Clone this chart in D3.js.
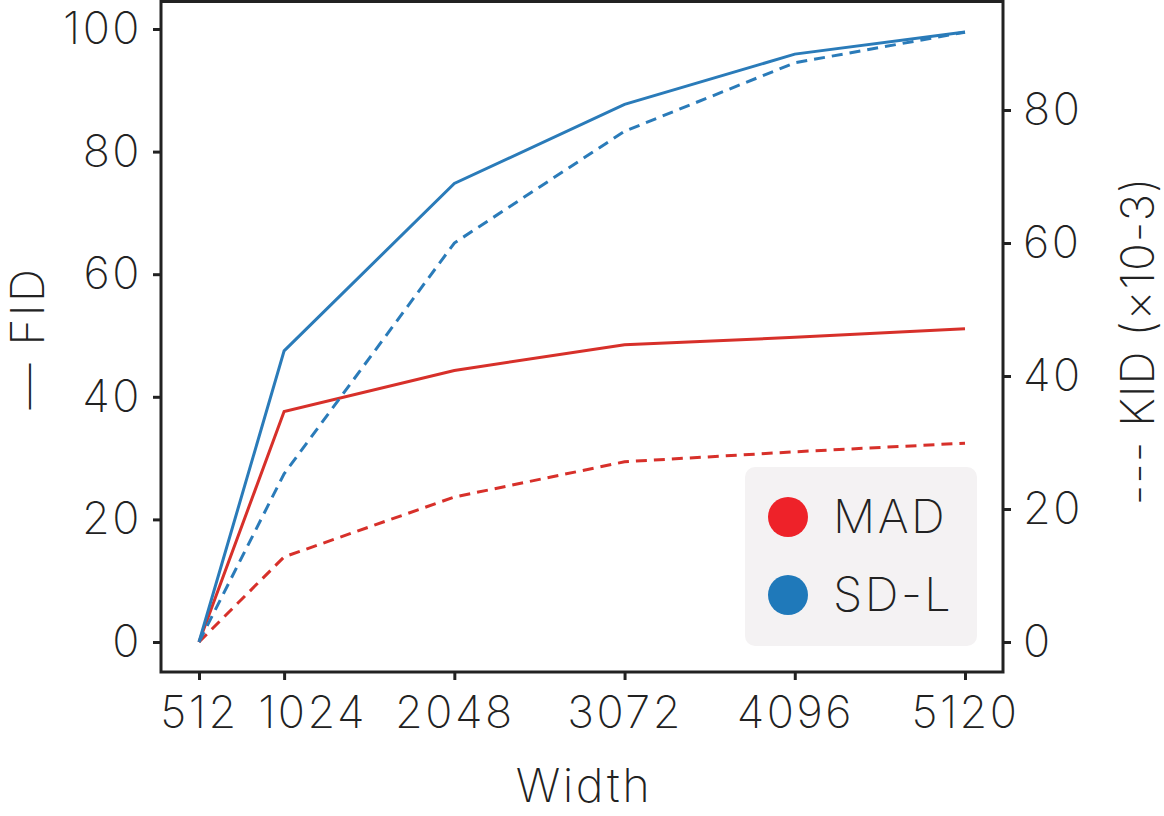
<!DOCTYPE html>
<html><head><meta charset="utf-8">
<script src="https://cdn.jsdelivr.net/npm/d3@7"></script>
<style>
body{margin:0;background:#fff}
text{font-family:Inter,"Open Sans",sans-serif;font-weight:250;fill:#222;letter-spacing:2.5px}
</style>
</head><body>
<svg id="c" width="1164" height="816"></svg>
<script>
const widths = [512, 1024, 2048, 3072, 4096, 5120];
const madFID = [0, 37.6, 44.3, 48.5, 49.7, 51.1];
const sdlFID = [0, 47.5, 74.8, 87.7, 95.9, 99.5];
const madKID = [0, 12.8, 21.8, 27.1, 28.6, 29.9];
const sdlKID = [0, 25.3, 60.0, 76.8, 87.1, 91.7];
const fidTicks = [0, 20, 40, 60, 80, 100];
const kidTicks = [0, 20, 40, 60, 80];
const methods = ["MAD", "SD-L"];
const colors = {"MAD": "#d7302a", "SD-L": "#2a7bb9"};
const legendColors = {"MAD": "#ee2229", "SD-L": "#1f79ba"};

const svg = d3.select("#c");
const P = {left: 161, right: 1003, top: 1.5, bottom: 672};

const x = d3.scaleLinear().domain([512, 5120]).range([199, 965]);
const yL = d3.scaleLinear().domain([0, 100]).range([642, 29]);
const yR = d3.scaleLinear().domain([0, 80]).range([642, 110]);

const FS = 45;

// axes
const gl = svg.append("g").attr("transform", `translate(${P.left},0)`)
  .call(d3.axisLeft(yL).tickValues(fidTicks).tickSize(8).tickPadding(11));
const gr = svg.append("g").attr("transform", `translate(${P.right},0)`)
  .call(d3.axisRight(yR).tickValues(kidTicks).tickSize(8).tickPadding(12));
const gb = svg.append("g").attr("transform", `translate(0,${P.bottom})`)
  .call(d3.axisBottom(x).tickValues(widths).tickFormat(d3.format("d")).tickSize(8).tickPadding(14));
[gl, gr, gb].forEach(g => {
  g.select(".domain").remove();
  g.selectAll(".tick line").attr("stroke", "#222").attr("stroke-width", 3);
  g.selectAll(".tick text").style("font-size", FS + "px").attr("fill", "#222");
});
gb.selectAll(".tick text").attr("dy", "0.75em");
// second label nudged right to avoid overlapping the first, as in the reference
gb.selectAll(".tick text").filter(d => d === 1024).attr("dx", 28);

// lines
const lineL = d3.line().x((d, i) => x(widths[i])).y(d => yL(d));
const lineR = d3.line().x((d, i) => x(widths[i])).y(d => yR(d));
const series = [
  {m: "MAD", v: madFID, line: lineL, dash: null},
  {m: "SD-L", v: sdlFID, line: lineL, dash: null},
  {m: "MAD", v: madKID, line: lineR, dash: "11,7"},
  {m: "SD-L", v: sdlKID, line: lineR, dash: "11,7"},
];
series.forEach(s => {
  svg.append("path").attr("d", s.line(s.v)).attr("fill", "none")
    .attr("stroke", colors[s.m]).attr("stroke-width", 3)
    .attr("stroke-dasharray", s.dash);
});

// frame
svg.append("rect").attr("x", P.left).attr("y", P.top)
  .attr("width", P.right - P.left).attr("height", P.bottom - P.top)
  .attr("fill", "none").attr("stroke", "#222").attr("stroke-width", 3);

// legend
const lg = svg.append("g");
lg.append("rect").attr("x", 745).attr("y", 467).attr("width", 232).attr("height", 179)
  .attr("rx", 10).attr("fill", "#f4f2f3");
methods.forEach((m, i) => {
  const cy = 517 + i * 78;
  lg.append("circle").attr("cx", 788).attr("cy", cy).attr("r", 20).attr("fill", legendColors[m]);
  lg.append("text").attr("x", 833).attr("y", cy).attr("dy", "0.35em")
    .style("font-size", (FS + 2) + "px").text(m);
});

// titles
svg.append("text").attr("x", (P.left + P.right) / 2 + 2).attr("y", 786).attr("dy", "0.35em")
  .attr("text-anchor", "middle").style("font-size", (FS + 2) + "px").text("Width");
svg.append("text").attr("transform", `translate(30,338) rotate(-90)`).attr("dy", "0.3em")
  .attr("text-anchor", "middle").style("font-size", (FS + 1) + "px").text("— FID");
svg.append("text").attr("transform", `translate(1138,341) rotate(-90)`).attr("dy", "0.35em")
  .attr("text-anchor", "middle").style("font-size", (FS + 1) + "px").style("letter-spacing", "1px").text("--- KID (×10-3)");
</script>
</body></html>
